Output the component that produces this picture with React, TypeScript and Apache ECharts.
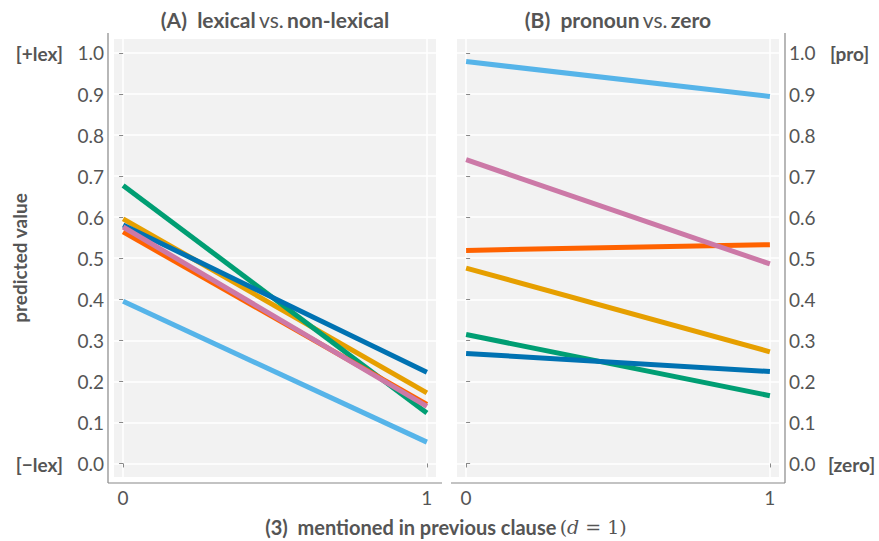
import React, { useEffect, useRef } from "react";
import * as echarts from "echarts";

const xTicks = [0, 1];
const yTicks = [0, 0.1, 0.2, 0.3, 0.4, 0.5, 0.6, 0.7, 0.8, 0.9, 1.0];
const seriesNames = ["sky blue", "orange", "green", "vermillion", "blue", "pink"];
const seriesColors = ["#56B4E9", "#E69F00", "#009E73", "#FF6200", "#0072B2", "#CC79A7"];
// (A) lexical vs. non-lexical: value at x=0 and x=1
const lexicalAt0 = [0.395, 0.596, 0.677, 0.564, 0.581, 0.576];
const lexicalAt1 = [0.052, 0.172, 0.123, 0.144, 0.222, 0.139];
// (B) pronoun vs. zero
const pronounAt0 = [0.979, 0.476, 0.314, 0.519, 0.268, 0.740];
const pronounAt1 = [0.894, 0.272, 0.165, 0.533, 0.224, 0.486];

const FONT = "Lato, 'Open Sans', sans-serif";
const TXT = "#555555";
const AX = "#888888";

export default function App() {
  const ref = useRef<HTMLDivElement>(null);
  useEffect(() => {
    if (!ref.current) return;
    document.body.style.margin = "0";
    const chart = echarts.init(ref.current, undefined, { renderer: "svg" });
    const grids = [
      { left: 114, top: 39, width: 322, height: 438 },
      { left: 457, top: 39, width: 322, height: 438 },
    ];
    const mkX = (gi: number) => ({
      type: "value",
      gridIndex: gi,
      min: -0.03,
      max: 1.03,
      position: "bottom",
      offset: 6,
      axisLine: { show: false },
      axisTick: { show: true, customValues: xTicks, length: 4, lineStyle: { color: AX, width: 1 } },
      axisLabel: { customValues: xTicks, fontSize: 19, color: TXT, fontFamily: FONT, margin: 5, formatter: (v: number) => String(v) },
      splitLine: { show: true, lineStyle: { color: "#ffffff", width: 1.5 } },
    });
    const mkY = (gi: number, pos: string) => ({
      type: "value",
      gridIndex: gi,
      min: -0.033,
      max: 1.034,
      position: pos,
      offset: 6,
      axisLine: { show: false },
      axisTick: { show: true, customValues: yTicks, length: 4, lineStyle: { color: AX, width: 1 } },
      axisLabel: { customValues: yTicks, fontSize: 19, color: TXT, fontFamily: FONT, margin: 4, formatter: (v: number) => v.toFixed(1) },
      splitLine: { show: true, lineStyle: { color: "#ffffff", width: 1.5 } },
    });
    const series: any[] = [];
    seriesNames.forEach((name, i) => {
      series.push({
        type: "line", name, xAxisIndex: 0, yAxisIndex: 0, symbol: "none",
        lineStyle: { color: seriesColors[i], width: 5, cap: "butt" },
        data: [[xTicks[0], lexicalAt0[i]], [xTicks[1], lexicalAt1[i]]],
        z: 2 + i,
      });
      series.push({
        type: "line", name, xAxisIndex: 1, yAxisIndex: 1, symbol: "none",
        lineStyle: { color: seriesColors[i], width: 5, cap: "butt" },
        data: [[xTicks[0], pronounAt0[i]], [xTicks[1], pronounAt1[i]]],
        z: 2 + i,
      });
    });
    const mkRich = (size: number) => ({
      b: { fontFamily: FONT, fontWeight: "bold", fontSize: size, fill: TXT },
      n: { fontFamily: FONT, fontWeight: "normal", fontSize: size, fill: TXT },
      s: { fontFamily: "'DejaVu Serif', 'Liberation Serif', serif", fontSize: size - 1, fill: TXT },
      i: { fontFamily: "'DejaVu Serif', 'Liberation Serif', serif", fontStyle: "italic", fontSize: size - 1, fill: TXT },
    });
    const lineStyle = { stroke: AX, lineWidth: 1.2 };
    const side = `bold 19px ${FONT}`;
    chart.setOption({
      animation: false,
      grid: grids.map((g) => ({ ...g, show: true, backgroundColor: "#f2f2f2", borderWidth: 0 })),
      xAxis: [mkX(0), mkX(1)],
      yAxis: [mkY(0, "left"), mkY(1, "right")],
      series,
      graphic: [
        { type: "line", shape: { x1: 108, y1: 33, x2: 108, y2: 483 }, style: lineStyle, silent: true },
        { type: "line", shape: { x1: 108, y1: 483, x2: 442, y2: 483 }, style: lineStyle, silent: true },
        { type: "line", shape: { x1: 785, y1: 33, x2: 785, y2: 483 }, style: lineStyle, silent: true },
        { type: "line", shape: { x1: 451, y1: 483, x2: 785, y2: 483 }, style: lineStyle, silent: true },
        {
          type: "text", x: 275, y: 19,
          style: { text: "{b|(A)  lexical} {n|vs.} {b|non-lexical}", rich: mkRich(21), align: "center", verticalAlign: "middle" },
        },
        {
          type: "text", x: 618, y: 19,
          style: { text: "{b|(B)  pronoun} {n|vs.} {b|zero}", rich: mkRich(21), align: "center", verticalAlign: "middle" },
        },
        {
          type: "text", x: 63, y: 53,
          style: { text: "[+lex]", font: side, fill: TXT, align: "right", verticalAlign: "middle" },
        },
        {
          type: "text", x: 63, y: 464,
          style: { text: "[\u2212lex]", font: side, fill: TXT, align: "right", verticalAlign: "middle" },
        },
        {
          type: "text", x: 830, y: 53,
          style: { text: "[pro]", font: side, fill: TXT, align: "left", verticalAlign: "middle" },
        },
        {
          type: "text", x: 828, y: 464,
          style: { text: "[zero]", font: side, fill: TXT, align: "left", verticalAlign: "middle" },
        },
        {
          type: "text", x: 19, y: 258, rotation: Math.PI / 2,
          style: { text: "predicted value", font: side, fill: TXT, align: "center", verticalAlign: "middle" },
        },
        {
          type: "text", x: 446, y: 527,
          style: { text: "{b|(3)  mentioned in previous clause} {s|(}{i|d}{s| = 1)}", rich: mkRich(20), align: "center", verticalAlign: "middle" },
        },
      ],
    });
    return () => chart.dispose();
  }, []);
  return <div ref={ref} style={{ width: 879, height: 541 }} />;
}
